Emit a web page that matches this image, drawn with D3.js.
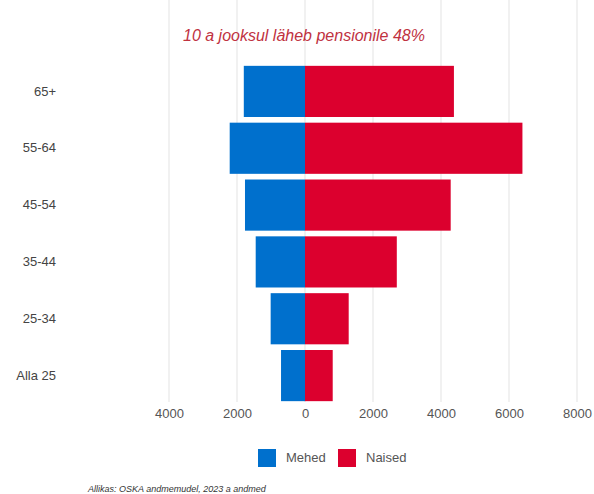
<!DOCTYPE html>
<html>
<head>
<meta charset="utf-8">
<script src="https://cdn.jsdelivr.net/npm/d3@7"></script>
<style>
  html, body { margin: 0; padding: 0; background: #fff; }
  svg { display: block; font-family: "Liberation Sans", Arial, sans-serif; }
</style>
</head>
<body>
<svg id="chart" width="594" height="494"></svg>
<script>
const categories = ["65+", "55-64", "45-54", "35-44", "25-34", "Alla 25"];
const mehed = [1800, 2215, 1765, 1450, 1010, 705];
const naised = [4380, 6395, 4285, 2700, 1285, 815];
const xTicks = [-4000, -2000, 0, 2000, 4000, 6000, 8000];
const seriesNames = ["Mehed", "Naised"];
const seriesColors = ["#0070cd", "#dc002e"];
const titleText = "10 a jooksul läheb pensionile 48%";
const sourceText = "Allikas: OSKA andmemudel, 2023 a andmed";

const svg = d3.select("#chart");

const x = d3.scaleLinear().domain([-4000, 8000]).range([169, 577]);
const y = d3.scaleBand().domain(categories).range([63, 404]).paddingInner(0.1).paddingOuter(0.05);

// gridlines
svg.append("g").selectAll("line").data(xTicks).join("line")
  .attr("x1", d => x(d)).attr("x2", d => x(d))
  .attr("y1", 0).attr("y2", 402)
  .attr("stroke", "#ececec").attr("stroke-width", 1.5);

// bars
svg.append("g").selectAll("rect").data(categories).join("rect")
  .attr("x", (d, i) => x(-mehed[i]))
  .attr("width", (d, i) => x(0) - x(-mehed[i]))
  .attr("y", d => y(d)).attr("height", y.bandwidth())
  .attr("fill", seriesColors[0]);

svg.append("g").selectAll("rect").data(categories).join("rect")
  .attr("x", x(0))
  .attr("width", (d, i) => x(naised[i]) - x(0))
  .attr("y", d => y(d)).attr("height", y.bandwidth())
  .attr("fill", seriesColors[1]);

// x axis
const xAxis = d3.axisBottom(x).tickValues(xTicks).tickSize(0).tickPadding(0)
  .tickFormat(d => String(Math.abs(d)));
const gx = svg.append("g").attr("transform", "translate(0,409)").call(xAxis);
gx.select(".domain").remove();
gx.selectAll("text").attr("font-size", 13).attr("fill", "#555")
  .attr("font-family", "'Liberation Sans', Arial, sans-serif");

// y axis
const yAxis = d3.axisLeft(y).tickSize(0).tickPadding(0);
const gy = svg.append("g").attr("transform", "translate(56,0)").call(yAxis);
gy.select(".domain").remove();
gy.selectAll("text").attr("font-size", 13).attr("fill", "#444")
  .attr("font-family", "'Liberation Sans', Arial, sans-serif");

// title
svg.append("text").attr("x", 304).attr("y", 41).attr("text-anchor", "middle")
  .attr("font-size", 16).attr("font-style", "italic").attr("fill", "#c0323f")
  .text(titleText);

// legend
const legendX = [258, 338];
const lg = svg.append("g");
seriesNames.forEach((name, i) => {
  lg.append("rect").attr("x", legendX[i]).attr("y", 449).attr("width", 18).attr("height", 18)
    .attr("fill", seriesColors[i]);
  lg.append("text").attr("x", legendX[i] + 28).attr("y", 462)
    .attr("font-size", 13).attr("fill", "#555").text(name);
});

// source
svg.append("text").attr("x", 88).attr("y", 492)
  .attr("font-size", 9).attr("font-style", "italic").attr("fill", "#333")
  .text(sourceText);
</script>
</body>
</html>
